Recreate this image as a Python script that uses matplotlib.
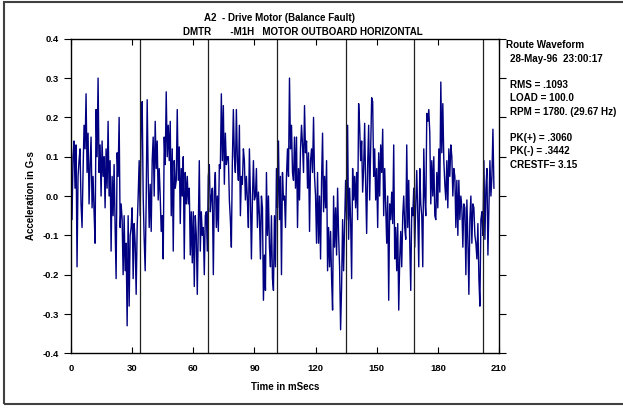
import numpy as np
import matplotlib.pyplot as plt
from matplotlib.patches import Rectangle
from matplotlib.ticker import FormatStrFormatter, MultipleLocator

plt.rcParams['font.family'] = ['Liberation Sans', 'DejaVu Sans']
plt.rcParams['axes.unicode_minus'] = False

# waveform, one value per screen pixel (G-s)
accel = [
    0.05, -0.06, 0.10, 0.14, 0.02, 0.13, -0.18, 0.05, 0.09, 0.12,
    -0.02, -0.08, 0.06, 0.18, 0.12, 0.26, 0.06, 0.16, -0.02, 0.08,
    0.15, -0.03, 0.05, -0.04, -0.12, 0.22, 0.10, 0.30, 0.06, 0.13,
    0.00, 0.14, 0.05, 0.10, -0.03, 0.12, 0.02, 0.19, 0.00, 0.09,
    -0.14, 0.05, -0.05, 0.08, -0.08, -0.21, 0.11, 0.05, 0.20, -0.08,
    -0.02, -0.06, -0.20, -0.05, -0.19, -0.12, -0.33, -0.05, -0.28, -0.10,
    -0.08, -0.03, -0.21, -0.07, -0.12, -0.25, -0.08, 0.00, 0.09, -0.05,
    # 33 ms
    0.19, 0.24, 0.00, -0.11, -0.19, -0.01, 0.245, 0.05, -0.08, 0.03,
    -0.09, 0.09, 0.15, 0.00, 0.19, 0.07, 0.14, -0.01, 0.07, 0.00,
    -0.09, -0.05, -0.16, 0.15, 0.08, 0.265, 0.10, 0.18, 0.09, 0.19,
    -0.05, 0.12, -0.14, 0.09, 0.02, 0.04, 0.22, 0.04, 0.125, -0.07,
    0.07, 0.00, 0.10, -0.16, 0.06, -0.02, 0.05, -0.02, 0.02, -0.15,
    -0.04, -0.17, -0.04, -0.23, -0.05, -0.10, -0.25, -0.08, 0.09, -0.14,
    -0.04, -0.10, -0.08, -0.20, -0.05, -0.04, -0.14, 0.05, 0.08, -0.04,
    0.00, 0.02,
    # 69 ms
    -0.20, 0.01, 0.06, -0.08, 0.00, -0.09, 0.08, 0.07, 0.26, 0.09,
    0.23, 0.03, 0.16, 0.08, 0.10, 0.10, -0.01, -0.06, -0.13, 0.09,
    0.22, 0.10, 0.06, 0.22, 0.09, 0.04, 0.18, -0.05, 0.05, 0.03,
    0.12, 0.09, -0.01, 0.05, -0.01, -0.08, 0.12, 0.00, -0.16, -0.01,
    0.09, -0.01, 0.00, 0.07, -0.08, 0.01, -0.05, -0.16, 0.00, -0.03,
    -0.265, -0.15, -0.24, 0.06, -0.10, 0.00, -0.13, -0.18, -0.05, -0.21,
    -0.24, -0.05, -0.18, 0.07, -0.03, 0.14, -0.06, 0.05, -0.20, 0.06,
    -0.01, 0.00,
    # 105 ms
    -0.08, 0.05, 0.12, 0.05, 0.30, 0.12, 0.18, 0.06, 0.04, 0.15,
    0.02, 0.15, -0.08, 0.07, -0.01, 0.12, 0.18, 0.13, 0.06, 0.23,
    0.11, 0.14, 0.02, 0.11, -0.09, 0.09, 0.12, 0.06, 0.20, 0.05,
    0.00, -0.12, 0.06, -0.12, 0.00, -0.16, 0.04, 0.16, -0.04, 0.05,
    -0.03, 0.09, -0.19, -0.08, -0.18, -0.09, -0.21, -0.29, 0.00, -0.13,
    -0.03, -0.15, 0.02, -0.10, -0.18, -0.34, -0.23, -0.06, -0.19, -0.07,
    0.04, -0.06, 0.18, -0.11, 0.02, -0.06, -0.21, 0.07, -0.01, 0.05,
    -0.03, 0.06,
    # 140 ms
    -0.06, 0.235, 0.18, 0.09, 0.14, 0.01, 0.07, 0.185, 0.03, -0.095,
    0.08, 0.18, -0.01, 0.12, 0.25, 0.24, 0.05, 0.12, -0.01, 0.07,
    -0.08, 0.11, 0.00, 0.13, 0.06, 0.17, -0.05, 0.07, -0.03, -0.12,
    0.00, -0.265, -0.02, -0.06, 0.01, -0.07, 0.13, -0.16, -0.08, -0.19,
    -0.07, -0.29, -0.16, -0.09, -0.18, -0.05, 0.00, -0.08, -0.11, 0.13,
    -0.08, 0.04, -0.12, -0.24, -0.03, -0.05, 0.02, -0.13, -0.02, 0.065,
    -0.05, -0.18, 0.07, -0.02, -0.05, -0.18, 0.12, 0.00, -0.05, 0.21,
    0.19, 0.22,
    # 176 ms
    0.16, -0.02, 0.09, 0.00, 0.10, -0.05, -0.06, 0.06, -0.03, 0.12,
    0.01, 0.29, 0.11, 0.235, 0.09, 0.03, -0.01, 0.09, -0.03, 0.12,
    0.05, 0.13, 0.10, 0.00, 0.07, 0.05, -0.08, 0.04, -0.10, 0.04,
    -0.06, 0.00, -0.03, -0.13, -0.02, -0.03, -0.20, -0.01, -0.11, -0.25,
    -0.06, 0.00, -0.12, -0.02, -0.03, -0.10, -0.12, -0.16, -0.07, -0.21,
    -0.28, -0.06, -0.04, -0.10, 0.09, -0.11, 0.02, 0.07, -0.15, -0.03,
    0.09, 0.00, 0.05, 0.17, 0.02,
]
t_end = 207.5  # ms, last sample
rev_marks = [33.7, 67.4, 101.1, 134.8, 168.5, 202.2]  # once-per-rev (29.67 Hz)

title1 = 'A2  - Drive Motor (Balance Fault)'
title2 = 'DMTR       -M1H   MOTOR OUTBOARD HORIZONTAL'
info = [
    ('Route Waveform', 0.0),
    ('28-May-96  23:00:17', 0.007),
    ('', 0), ('RMS = .1093', 0.007), ('LOAD = 100.0', 0.007),
    ('RPM = 1780. (29.67 Hz)', 0.007),
    ('', 0), ('PK(+) = .3060', 0.007), ('PK(-) = .3442', 0.007),
    ('CRESTF= 3.15', 0.007),
]

t = np.linspace(0, t_end, len(accel))

fig = plt.figure(figsize=(6.23, 4.08), dpi=100)
ax = fig.add_axes([0.114, 0.134, 0.687, 0.771])

ax.plot(t, accel, color='#000080', lw=1.0)
for m in rev_marks:
    ax.axvline(m, color='#202020', lw=0.9)

ax.set_xlim(0, 210)
ax.set_ylim(-0.4, 0.4)
ax.xaxis.set_major_locator(MultipleLocator(30))
ax.yaxis.set_major_locator(MultipleLocator(0.1))
ax.yaxis.set_major_formatter(FormatStrFormatter('%.1f'))
ax.tick_params(axis='x', direction='in', top=True, length=4, width=0.8,
               labelsize=6.8, pad=8)
ax.tick_params(axis='y', direction='out', right=True, length=5, width=0.8,
               labelsize=6.8)
for lab in ax.get_xticklabels() + ax.get_yticklabels():
    lab.set_fontweight('bold')
for s in ax.spines.values():
    s.set_linewidth(1.0)

ax.set_xlabel('Time in mSecs', fontsize=7, fontweight='bold', labelpad=6)
ax.set_ylabel('Acceleration in G-s', fontsize=7, fontweight='bold', labelpad=5)

fig.text(0.448, 0.955, title1, ha='center', va='center', fontsize=7, fontweight='bold')
fig.text(0.486, 0.921, title2, ha='center', va='center', fontsize=7, fontweight='bold')

y = 0.889
for txt, dx in info:
    if txt:
        fig.text(0.812 + dx, y, txt, ha='left', va='center', fontsize=7.1,
                 fontweight='bold')
    y -= 0.0325

fig.patches.append(Rectangle((0.007, 0.01), 1.1, 0.984, transform=fig.transFigure,
                             fill=False, edgecolor='#404040', lw=1.5))

fig.savefig('out.png', dpi=100)
